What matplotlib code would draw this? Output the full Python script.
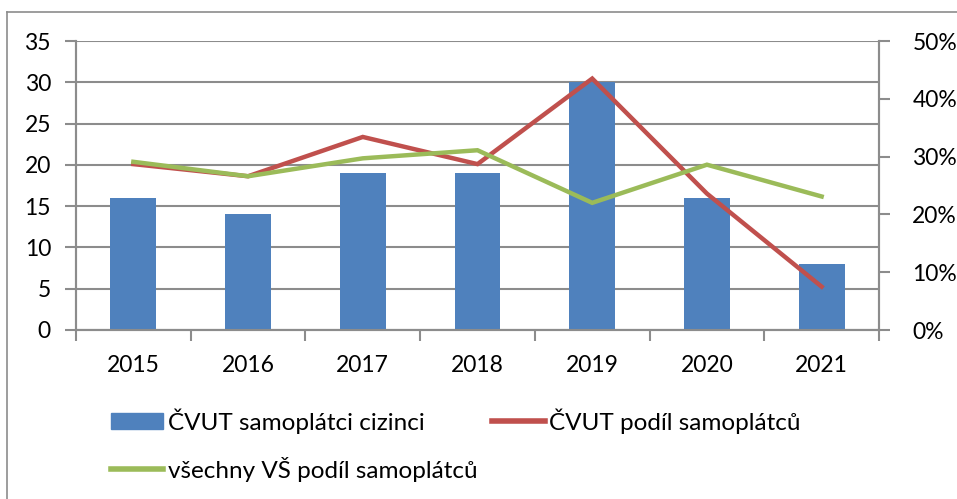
import matplotlib.pyplot as plt
import matplotlib.patches as mpatches
from matplotlib.lines import Line2D
from matplotlib.ticker import FixedLocator, PercentFormatter

# data
roky = ['2015', '2016', '2017', '2018', '2019', '2020', '2021']
cvut_cizinci = [16, 14, 19, 19, 30, 16, 8]
cvut_podil = [28.7, 26.6, 33.4, 28.7, 43.5, 23.6, 7.5]
vse_podil = [29.1, 26.6, 29.7, 31.1, 22.0, 28.6, 23.1]

modra = '#4F81BD'
cervena = '#C0504D'
zelena = '#9BBB59'
seda = '#8C8C8C'

plt.rcParams['font.family'] = ['Lato', 'DejaVu Sans']
plt.rcParams['font.size'] = 16.5

W, H = 957, 499
fig = plt.figure(figsize=(W / 100, H / 100), dpi=100)
ax = fig.add_axes([76 / W, 1 - 330 / H, (879 - 76) / W, (330 - 41) / H])
ax2 = ax.twinx()

x = list(range(len(roky)))
ax.bar(x, cvut_cizinci, width=0.4, color=modra, zorder=3)
ax2.plot(x, cvut_podil, color=cervena, lw=3.2, solid_joinstyle='miter', zorder=3)
ax2.plot(x, vse_podil, color=zelena, lw=3.2, solid_joinstyle='miter', zorder=4)

ax.set_xlim(-0.5, len(roky) - 0.5)
ax.set_ylim(0, 35)
ax.set_yticks(range(0, 36, 5))
ax2.set_ylim(0, 50)
ax2.set_yticks(range(0, 51, 10))
ax2.yaxis.set_major_formatter(PercentFormatter(decimals=0))

# category boundaries as major ticks, labels on minor ticks
ax.xaxis.set_major_locator(FixedLocator([i - 0.5 for i in range(len(roky) + 1)]))
ax.xaxis.set_major_formatter(plt.NullFormatter())
ax.xaxis.set_minor_locator(FixedLocator(x))
ax.set_xticklabels(roky, minor=True)
ax.tick_params(axis='x', which='minor', length=0, pad=18)
ax.tick_params(axis='x', which='major', length=8, width=1.5, color=seda)
ax.tick_params(axis='y', length=8, width=1.5, color=seda, pad=10)
ax2.tick_params(axis='y', length=8, width=1.5, color=seda, pad=16)

ax.grid(axis='y', color=seda, lw=1.5, zorder=0)
ax.set_axisbelow(True)
for a in (ax, ax2):
    a.spines['top'].set_visible(False)
    for s in ('left', 'right', 'bottom'):
        a.spines[s].set_color(seda)
        a.spines[s].set_linewidth(1.5)

handles = [
    mpatches.Patch(color=modra, label='ČVUT samoplátci cizinci'),
    Line2D([], [], color=zelena, lw=4, label='všechny VŠ podíl samoplátců'),
    Line2D([], [], color=cervena, lw=4, label='ČVUT podíl samoplátců'),
]
fig.legend(handles=handles, loc='upper left', bbox_to_anchor=(111 / W, 1 - 408 / H),
           ncol=2, frameon=False, borderpad=0, borderaxespad=0, fontsize=17.5,
           handlelength=2.15, handleheight=0.62, handletextpad=0.2,
           columnspacing=0.6, labelspacing=0.95)

# chart border
fig.add_artist(Line2D([7 / W, 7 / W], [0, 1 - 12 / H], color=seda, lw=1.2))
fig.add_artist(Line2D([7 / W, 1], [1 - 12 / H, 1 - 12 / H], color=seda, lw=1.2))

fig.savefig('out.png', dpi=100)
